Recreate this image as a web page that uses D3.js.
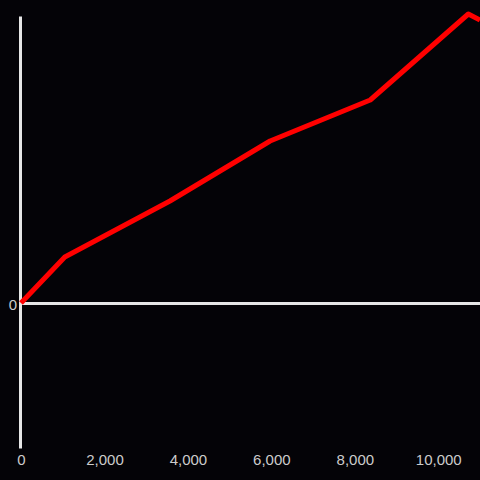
<!DOCTYPE html>
<html lang="en">
<head>
    <meta charset="UTF-8">
    <title>Line chart</title>
    <script src="https://d3js.org/d3.v7.min.js"></script>
    <style>
        body { margin: 0; background: #040307; }
        svg { display: block; }
        .tick text { fill: #cccccc; font-family: "Liberation Sans", Arial, sans-serif; font-size: 15px; }
    </style>
</head>
<body>
    <svg width="480" height="480"></svg>
    <script>
        // values (y has no scale, so units are arbitrary)
        const xValues = [0, 1050, 3570, 5970, 8370, 10720, 11000];
        const yValues = [0, 46, 102, 162, 203, 289, 283];
        const xTicks = [0, 2000, 4000, 6000, 8000, 10000];
        const yTicks = [0];

        const data = xValues.map((x, i) => ({x: x, y: yValues[i]}));

        const svg = d3.select("svg");
        svg.append("rect").attr("width", 480).attr("height", 480).attr("fill", "#040307");

        const x = d3.scaleLinear().domain([0, 11000]).range([21, 480]);
        const y = d3.scaleLinear().domain([-145, 287]).range([448, 16]);

        // x tick labels only
        const xAxis = svg.append("g")
            .attr("transform", "translate(0,448)")
            .call(d3.axisBottom(x).tickValues(xTicks).tickFormat(d3.format(",")).tickSize(0).tickPadding(6));
        xAxis.select(".domain").remove();

        // y axis line
        const yAxis = svg.append("g")
            .attr("transform", "translate(20,0)")
            .call(d3.axisLeft(y).tickValues(yTicks).tickSize(0).tickPadding(3));
        yAxis.select(".domain").attr("stroke", "#e6e6e6").attr("stroke-width", 3);
        yAxis.selectAll(".tick text").attr("dy", "0.45em");

        // zero line
        svg.append("line")
            .attr("x1", 20).attr("x2", 480)
            .attr("y1", y(0) + 0.5).attr("y2", y(0) + 0.5)
            .attr("stroke", "#e6e6e6").attr("stroke-width", 3);

        const line = d3.line().x(d => x(d.x)).y(d => y(d.y));
        svg.append("path")
            .datum(data)
            .attr("fill", "none")
            .attr("stroke", "#ff0000")
            .attr("stroke-width", 5)
            .attr("stroke-linejoin", "round")
            .attr("d", line);
    </script>
</body>
</html>
